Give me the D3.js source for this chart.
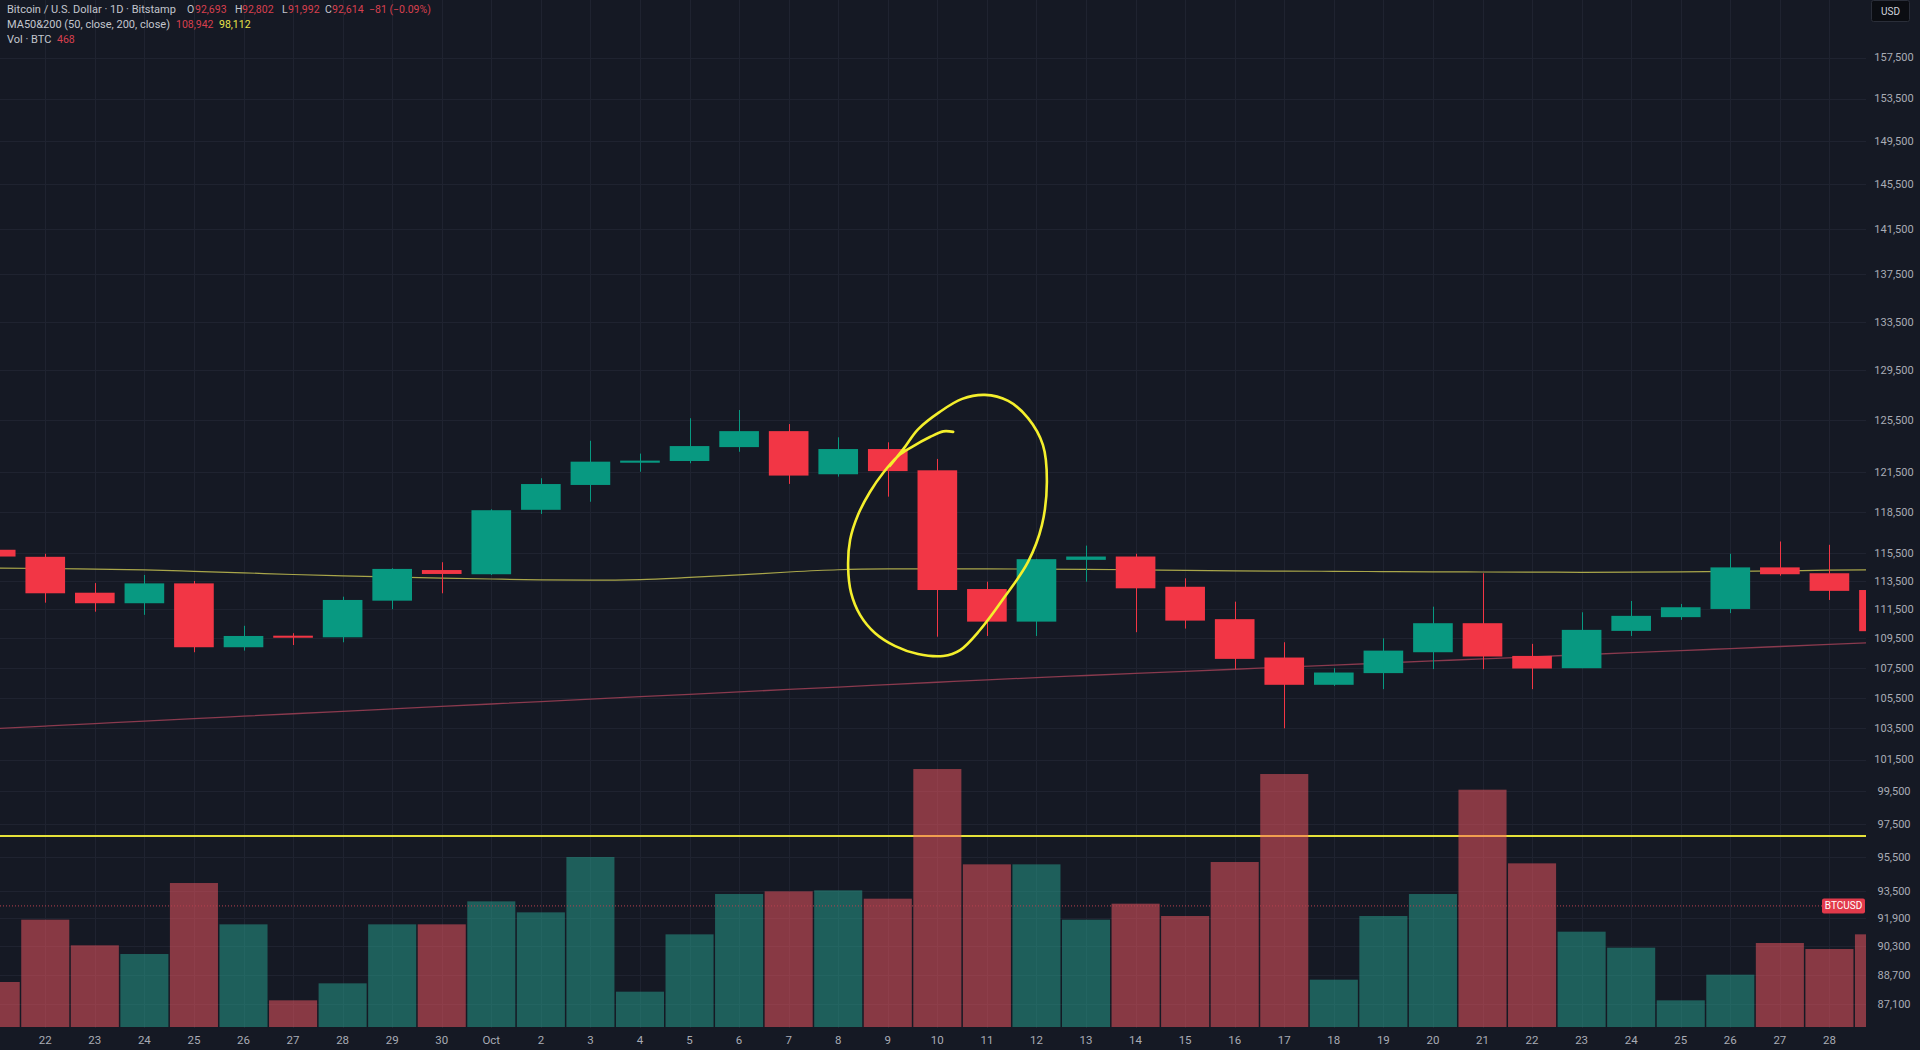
<!DOCTYPE html>
<html><head><meta charset="utf-8">
<script src="https://cdn.jsdelivr.net/npm/d3@7"></script>
<style>
html,body{margin:0;padding:0;background:#141823;overflow:hidden}
svg{display:block}
text{font-family:Roboto,"Noto Sans",sans-serif}
</style></head><body>
<svg id="chart" width="1920" height="1050"></svg>
<script>
// ---- data ----
const dates = ["2025-09-21","2025-09-22","2025-09-23","2025-09-24","2025-09-25","2025-09-26","2025-09-27","2025-09-28","2025-09-29","2025-09-30",
"2025-10-01","2025-10-02","2025-10-03","2025-10-04","2025-10-05","2025-10-06","2025-10-07","2025-10-08","2025-10-09","2025-10-10",
"2025-10-11","2025-10-12","2025-10-13","2025-10-14","2025-10-15","2025-10-16","2025-10-17","2025-10-18","2025-10-19","2025-10-20",
"2025-10-21","2025-10-22","2025-10-23","2025-10-24","2025-10-25","2025-10-26","2025-10-27","2025-10-28","2025-10-29"];
const tickLabels = ["21","22","23","24","25","26","27","28","29","30","Oct","2","3","4","5","6","7","8","9","10",
"11","12","13","14","15","16","17","18","19","20","21","22","23","24","25","26","27","28"];
const opens  = [115740,115230,112670,111930,113330,108890,109680,109570,112110,114280,113980,118670,120530,122220,122350,123420,124660,121340,123270,121640,
112930,110650,115010,115250,113090,110820,108190,106360,107140,108550,110540,108300,107470,110010,110960,111530,114470,114050,112860];
const highs  = [115900,115450,113350,113930,113500,110360,109850,112390,114410,114840,118710,121040,123910,122920,125670,126320,125210,124180,123790,122510,
113450,115080,116040,115450,113690,112040,109230,107470,109500,111690,114050,109120,111300,112090,111880,115450,116340,116100,112860];
const lows   = [114900,111970,111340,111120,108550,108660,109040,109230,111510,112630,113930,118360,119270,121530,122180,123060,120610,121160,119650,109610,
109660,109660,113450,109920,110170,107410,103500,106290,106070,107410,107410,106070,107470,109660,110770,111240,113880,112160,109990];
const closes = [115250,112630,111930,113330,108890,109660,109540,112160,114360,114000,118640,120600,122300,122380,123500,124660,121240,123270,121580,112860,
110650,115060,115250,112980,110720,108100,106360,107180,108660,110540,108260,107450,110080,111050,111650,114470,113980,112800,109990];
const volumes = [1350,3220,2450,2190,4320,3080,800,1310,3080,3080,3770,3440,5100,1060,2780,3990,4070,4100,3850,7740,
4880,4880,3220,3700,3330,4950,7590,1420,3330,3990,7120,4910,2860,2380,800,1570,2520,2340,2780];
const maYellow = [114420,114390,114340,114290,114190,114080,113960,113870,113790,113710,113640,113580,113560,113600,113750,113930,114140,114300,114360,114370,
114360,114350,114330,114300,114250,114220,114200,114190,114170,114150,114140,114130,114120,114130,114150,114180,114220,114270,114300];
const maPink = [103490,103650,103810,103970,104130,104290,104450,104610,104770,104930,105090,105250,105410,105570,105730,105890,106050,106210,106370,106530,
106690,106840,106980,107120,107260,107400,107540,107680,107820,107960,108100,108240,108380,108520,108660,108800,108940,109080,109220];
const priceTicks = [157500,153500,149500,145500,141500,137500,133500,129500,125500,121500,118500,115500,113500,111500,109500,107500,105500,103500,101500,99500,97500,95500,93500,91900,90300,88700,87100];
const hLinePrice = 96750;
const lastPrice = 92614;
// hand-drawn annotation (day index, price)
const annotIdx   = [19.32,19.12,18.85,18.49,18.21,17.92,17.64,17.40,17.24,17.20,17.26,17.44,17.74,18.15,18.61,19.12,19.46,19.86,20.36,20.83,21.11,21.21,21.13,20.83,20.43,19.96,19.50,19.05,18.61,18.32,18.04];
const annotPrice = [124600,124640,124200,123440,122740,121510,120000,118300,116460,114500,112660,111120,109870,108970,108430,108300,108700,110070,112380,114860,117540,120750,123590,125680,127040,127520,127200,126170,124800,123300,121970];

// ---- setup ----
const W = 1920, H = 1050, plotR = 1866, plotB = 1028;
const svg = d3.select("#chart");
svg.append("rect").attr("width", W).attr("height", H).attr("fill", "#151924");

const n = dates.length;
const x = d3.scaleLinear().domain([0, n - 1]).range([-4.3, -4.3 + (n - 1) * 49.56]);
const step = x(1) - x(0);
const y = d3.scaleLog().domain([87100, 157500]).range([1004, 57.5]);
const yv = d3.scaleLinear().domain([0, 10000]).range([1027, 1027 - 333.3]);

svg.append("defs").append("clipPath").attr("id", "plotclip")
  .append("rect").attr("x", 0).attr("y", 0).attr("width", plotR).attr("height", plotB);
const plot = svg.append("g").attr("clip-path", "url(#plotclip)");

// grid
plot.append("g").selectAll("line").data(priceTicks).join("line")
  .attr("x1", 0).attr("x2", plotR).attr("y1", d => Math.round(y(d)) + 0.5).attr("y2", d => Math.round(y(d)) + 0.5)
  .attr("stroke", "#1f2330").attr("stroke-width", 1);
plot.append("g").selectAll("line").data(d3.range(n)).join("line")
  .attr("x1", i => Math.round(x(i)) + 0.5).attr("x2", i => Math.round(x(i)) + 0.5).attr("y1", 0).attr("y2", plotB)
  .attr("stroke", "#1f2330").attr("stroke-width", 1);

// horizontal drawing line
plot.append("line").attr("x1", 0).attr("x2", plotR)
  .attr("y1", y(hLinePrice)).attr("y2", y(hLinePrice))
  .attr("stroke", "#e6e23a").attr("stroke-width", 2);

// volume
const up = i => closes[i] >= opens[i];
plot.append("g").selectAll("rect").data(d3.range(n)).join("rect")
  .attr("x", i => x(i) - step / 2 + 0.75).attr("width", step - 1.5)
  .attr("y", i => yv(volumes[i])).attr("height", i => yv(0) - yv(volumes[i]))
  .attr("fill", i => up(i) ? "rgb(40,166,146)" : "rgb(252,90,100)")
  .attr("fill-opacity", 0.5);

// price line (dotted)
plot.append("line").attr("x1", 0).attr("x2", 1822)
  .attr("y1", y(lastPrice)).attr("y2", y(lastPrice))
  .attr("stroke", "#b8414f").attr("stroke-width", 1).attr("stroke-dasharray", "1,2");

// moving averages
const maLine = arr => d3.line().x((d, i) => x(i)).y(d => y(d)).curve(d3.curveMonotoneX)(arr);
plot.append("path").attr("d", maLine(maPink)).attr("fill", "none").attr("stroke", "#8a3a4e").attr("stroke-width", 1.3);
plot.append("path").attr("d", maLine(maYellow)).attr("fill", "none").attr("stroke", "#a9a64a").attr("stroke-width", 1.2);

// candles
const red = "#f23645", green = "#089981";
const bodyW = step * 0.8;
const cg = plot.append("g");
cg.selectAll("line").data(d3.range(n)).join("line")
  .attr("x1", i => Math.round(x(i)) + 0.5).attr("x2", i => Math.round(x(i)) + 0.5)
  .attr("y1", i => y(highs[i])).attr("y2", i => y(lows[i]))
  .attr("stroke", i => up(i) ? green : red).attr("stroke-width", 1);
cg.selectAll("rect").data(d3.range(n)).join("rect")
  .attr("x", i => x(i) - bodyW / 2).attr("width", bodyW)
  .attr("y", i => y(Math.max(opens[i], closes[i])))
  .attr("height", i => Math.max(2, y(Math.min(opens[i], closes[i])) - y(Math.max(opens[i], closes[i]))))
  .attr("fill", i => up(i) ? green : red);

// annotation ellipse
plot.append("path")
  .attr("d", d3.line().x((d, i) => x(annotIdx[i])).y(d => y(d)).curve(d3.curveCatmullRom.alpha(0.5))(annotPrice))
  .attr("fill", "none").attr("stroke", "#f4ef2c").attr("stroke-width", 2.6)
  .attr("stroke-linecap", "round").attr("stroke-linejoin", "round");

// price axis labels
svg.append("g").selectAll("text").data(priceTicks).join("text")
  .attr("x", 1894).attr("y", d => y(d)).attr("dy", "0.35em")
  .attr("text-anchor", "middle").attr("font-size", 11).attr("fill", "#a9acb5")
  .text(d => d3.format(",")(d));

// time axis labels (labels whose day centre lies off the left edge are not drawn)
svg.append("g").selectAll("text").data(tickLabels.map((t, i) => ({t, i})).filter(d => x(d.i) > 8)).join("text")
  .attr("x", d => x(d.i)).attr("y", 1040).attr("dy", "0.35em")
  .attr("text-anchor", "middle").attr("font-size", 11.5).attr("fill", "#a9acb5")
  .text(d => d.t);

// USD box
svg.append("rect").attr("x", 1871.5).attr("y", 0.5).attr("width", 38).attr("height", 21).attr("rx", 2)
  .attr("fill", "#0b0d12").attr("stroke", "#2a2e39");
svg.append("text").attr("x", 1890.5).attr("y", 11).attr("dy", "0.35em").attr("text-anchor", "middle")
  .attr("font-size", 10).attr("fill", "#d1d4dc").text("USD");

// BTCUSD label
svg.append("rect").attr("x", 1822).attr("y", y(lastPrice) - 7.5).attr("width", 43).attr("height", 15).attr("rx", 2)
  .attr("fill", "#e23a4b");
svg.append("text").attr("x", 1843.5).attr("y", y(lastPrice)).attr("dy", "0.35em").attr("text-anchor", "middle")
  .attr("font-size", 10).attr("fill", "#ffffff").text("BTCUSD");

// header
const gray = "#c3c6ce", hred = "#d8404f", hyel = "#e8e24a";
const header = [
  {t: "Bitcoin / U.S. Dollar · 1D · Bitstamp", x: 7, y: 13, c: gray},
  {t: "O", x: 187, y: 13, c: gray}, {t: "92,693", x: 195, y: 13, c: hred},
  {t: "H", x: 235, y: 13, c: gray}, {t: "92,802", x: 242, y: 13, c: hred},
  {t: "L", x: 282, y: 13, c: gray}, {t: "91,992", x: 288, y: 13, c: hred},
  {t: "C", x: 325, y: 13, c: gray}, {t: "92,614", x: 332, y: 13, c: hred},
  {t: "−81 (−0.09%)", x: 369, y: 13, c: hred},
  {t: "MA50&200 (50, close, 200, close)", x: 7, y: 28, c: gray},
  {t: "108,942", x: 176, y: 28, c: hred}, {t: "98,112", x: 219, y: 28, c: hyel},
  {t: "Vol · BTC", x: 7, y: 43, c: gray}, {t: "468", x: 57, y: 43, c: hred}
];
svg.append("g").selectAll("text").data(header).join("text")
  .attr("x", d => d.x).attr("y", d => d.y).attr("font-size", d => d.x === 7 ? 11 : 10.5).attr("fill", d => d.c).text(d => d.t);
</script>
</body></html>
